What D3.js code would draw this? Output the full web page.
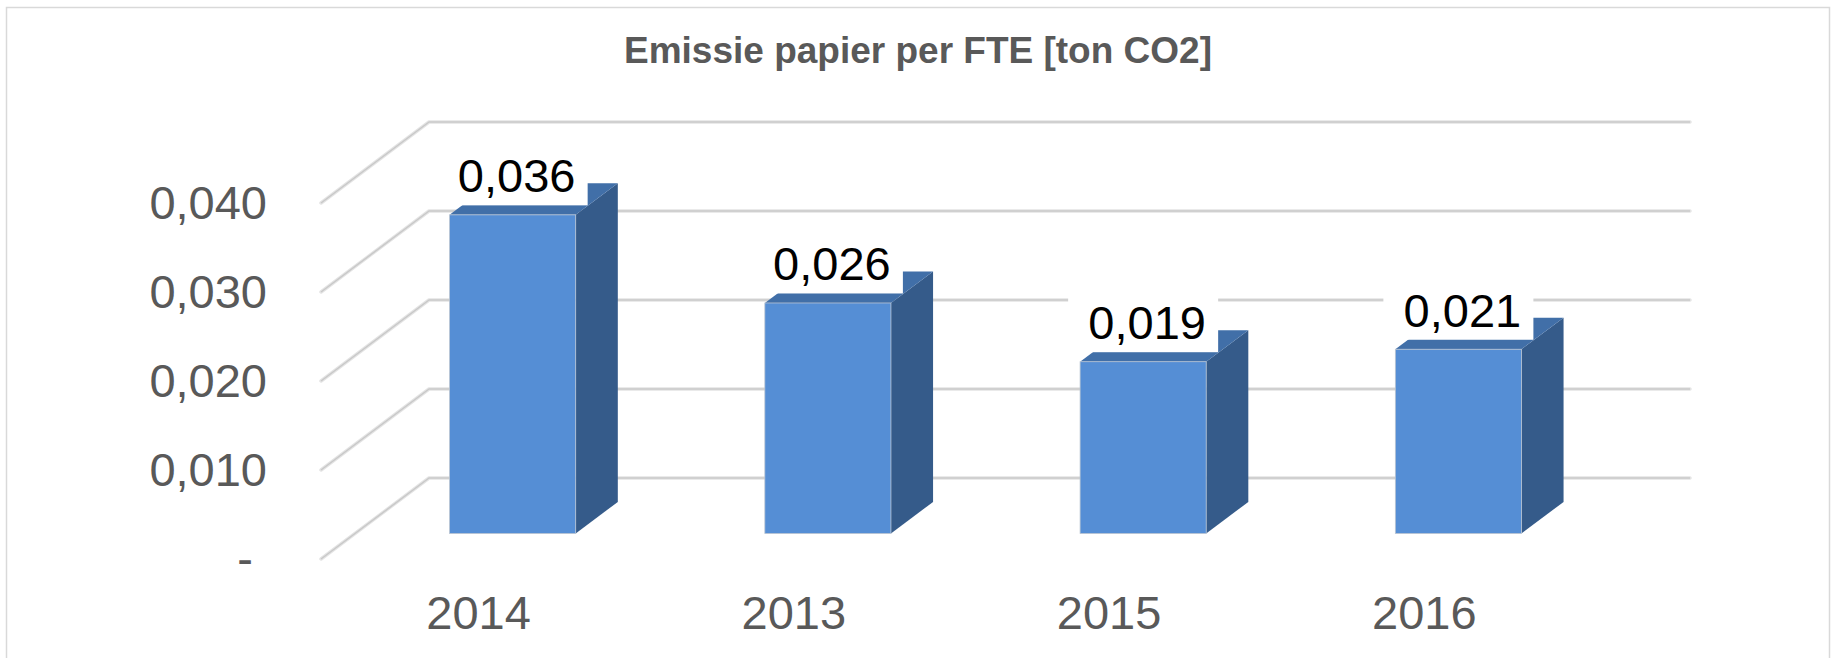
<!DOCTYPE html>
<html>
<head>
<meta charset="utf-8">
<script src="https://cdn.jsdelivr.net/npm/d3@7"></script>
<style>
  body { margin: 0; background: #fff; }
  svg { display: block; font-family: "Liberation Sans", Arial, sans-serif; }
</style>
</head>
<body>
<svg id="viz" width="1831" height="658"></svg>
<script>
// chart data
const title = "Emissie papier per FTE [ton CO2]";
const categories = ["2014", "2013", "2015", "2016"];
const values = [0.0358, 0.0259, 0.0193, 0.0207];
const yTicks = [0, 0.01, 0.02, 0.03, 0.04];
const yTickLabels = ["-", "0,010", "0,020", "0,030", "0,040"];

const width = 1831;
const height = 658;
const plot = { left: 321, right: 1582, floor: 559, top: 203 };
// oblique depth of the 3D box (full depth)
const DEPTH = { dx: 108, dy: 81 };
const BAR_FRONT = 0.315, BAR_BACK = 0.705;

const nl = d3.formatLocale({ decimal: ",", thousands: ".", grouping: [3], currency: ["€", ""] });
const fmt = nl.format(".3f");

const svg = d3.select("#viz");

const x = d3.scaleBand()
    .domain(categories)
    .range([plot.left, plot.right]);

const y = d3.scaleLinear()
    .domain([0, 0.04])
    .range([plot.floor, plot.top]);

// project a point (px, value) at depth fraction d
const proj = (px, v, d) => [px + d * DEPTH.dx, y(v) - d * DEPTH.dy];

// chart border
svg.append("rect")
    .attr("x", 6.5).attr("y", 7.5)
    .attr("width", 1823).attr("height", 660)
    .attr("fill", "none")
    .attr("stroke", "#d9d9d9")
    .attr("stroke-width", 1.5);

// title
svg.append("text")
    .attr("x", 918)
    .attr("y", 63)
    .attr("text-anchor", "middle")
    .attr("font-size", 37)
    .attr("font-weight", "bold")
    .attr("fill", "#595959")
    .text(title);

// gridlines: side wall diagonal + back wall
const gridPath = t => {
    const a = proj(plot.left, t, 0);
    const b = proj(plot.left, t, 1);
    const c = proj(plot.right, t, 1);
    return d3.line()([a, b, c]);
};
const grid = svg.append("g").attr("fill", "none");
grid.selectAll("path.under")
    .data(yTicks)
    .join("path")
    .attr("class", "under")
    .attr("d", gridPath)
    .attr("stroke", "#e4e4e4")
    .attr("stroke-width", 3.5)
    .attr("stroke-linejoin", "round")
    .attr("stroke-linecap", "round");
grid.selectAll("path.core")
    .data(yTicks)
    .join("path")
    .attr("class", "core")
    .attr("d", gridPath)
    .attr("stroke", "#c9c9c9")
    .attr("stroke-width", 1.5)
    .attr("stroke-linejoin", "round");

// y axis labels
const yAxis = svg.append("g")
    .attr("transform", "translate(267,0)")
    .call(d3.axisLeft(y)
        .tickValues(yTicks)
        .tickSize(0)
        .tickPadding(0)
        .tickFormat((d, i) => yTickLabels[i]));
yAxis.select(".domain").remove();
yAxis.selectAll("text")
    .attr("font-size", 47)
    .attr("font-family", "\"Liberation Sans\", Arial, sans-serif")
    .attr("fill", "#595959")
    // the zero dash sits a bit in from the right edge (accounting format)
    .attr("x", d => d === 0 ? -14 : 0);

// category labels
const xAxis = svg.append("g")
    .attr("transform", `translate(0,${plot.floor})`)
    .call(d3.axisBottom(x)
        .tickSize(0)
        .tickPadding(36.5));
xAxis.select(".domain").remove();
xAxis.selectAll("text")
    .attr("font-size", 47)
    .attr("font-family", "\"Liberation Sans\", Arial, sans-serif")
    .attr("fill", "#595959");

// bars
const barW = x.bandwidth() * 0.4;
const rows = categories.map((c, i) => ({ cat: c, value: values[i] }));

const bars = svg.append("g").selectAll("g")
    .data(rows)
    .join("g");

const barX0 = d => x(d.cat) + (x.bandwidth() - barW) / 2;

// side face
bars.append("path")
    .attr("fill", "#355b8a")
    .attr("d", d => {
        const x1 = barX0(d) + barW;
        return d3.line()([
            proj(x1, 0, BAR_FRONT), proj(x1, 0, BAR_BACK),
            proj(x1, d.value, BAR_BACK), proj(x1, d.value, BAR_FRONT)
        ]) + "Z";
    });

// top face
bars.append("path")
    .attr("fill", "#416fa8")
    .attr("d", d => {
        const x0 = barX0(d), x1 = x0 + barW;
        return d3.line()([
            proj(x0, d.value, BAR_FRONT), proj(x1, d.value, BAR_FRONT),
            proj(x1, d.value, BAR_BACK), proj(x0, d.value, BAR_BACK)
        ]) + "Z";
    });

// front face
bars.append("rect")
    .attr("x", d => proj(barX0(d), d.value, BAR_FRONT)[0])
    .attr("y", d => proj(barX0(d), d.value, BAR_FRONT)[1])
    .attr("width", barW)
    .attr("height", d => y(0) - y(d.value))
    .attr("fill", "#558ed5")
    .attr("stroke", "#b9c4d2")
    .attr("stroke-width", 0.8);

// data labels with white boxes
const labels = svg.append("g").selectAll("g")
    .data(rows)
    .join("g")
    .attr("transform", d => {
        const [fx, fy] = proj(barX0(d) + barW / 2, d.value, BAR_FRONT);
        return `translate(${fx},${fy - 22.5})`;
    });

labels.append("rect")
    .attr("x", -75)
    .attr("y", -47)
    .attr("width", 150)
    .attr("height", 60)
    .attr("fill", "#fff");

labels.append("text")
    .attr("x", 4)
    .attr("text-anchor", "middle")
    .attr("font-size", 47)
    .attr("fill", "#000")
    .text(d => fmt(d.value));
</script>
</body>
</html>
